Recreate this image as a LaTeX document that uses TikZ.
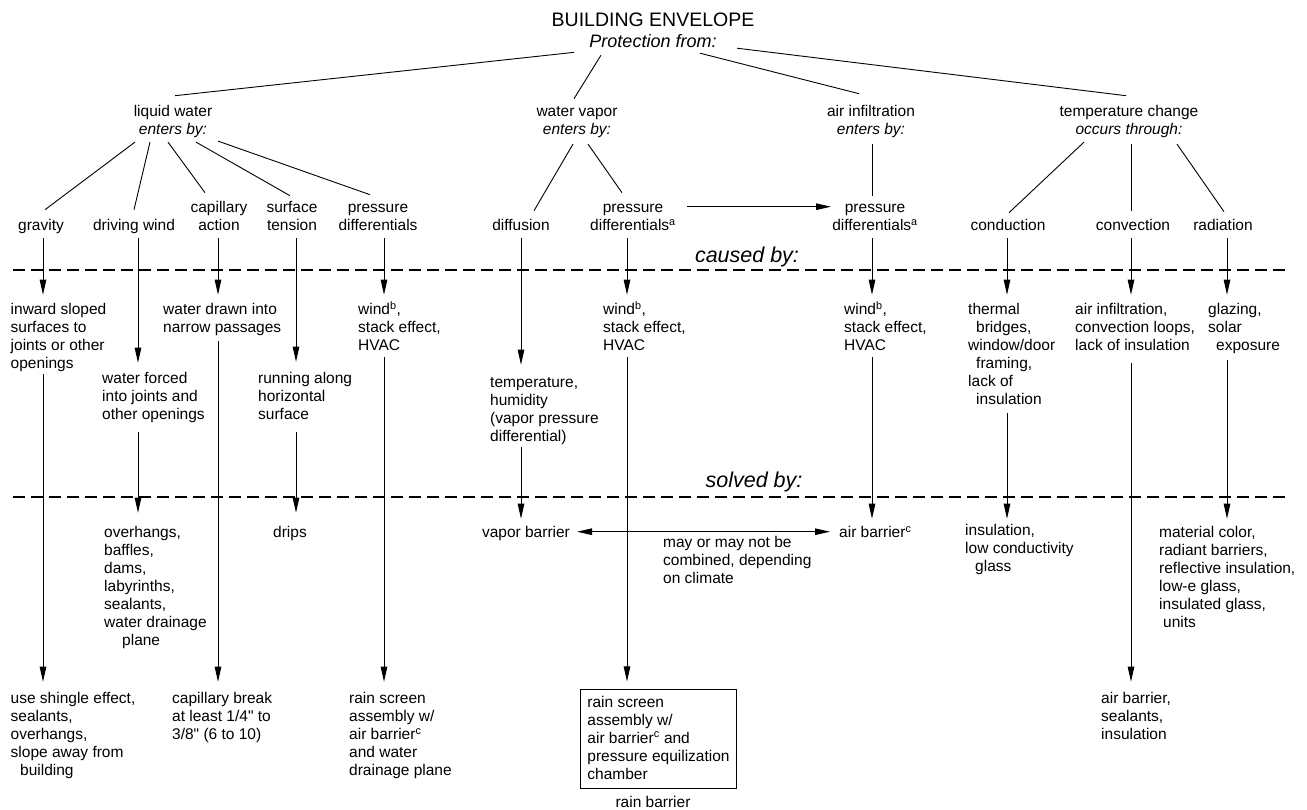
\documentclass[tikz,border=0pt]{standalone}
\usepackage{fontspec}
\setmainfont{Liberation Sans}[Ligatures=TeXOff]
\usetikzlibrary{arrows.meta}
\newcommand\supr[1]{\smash{\textsuperscript{#1}}}
\newcommand\mlc[1]{\begin{tabular}[t]{@{}c@{}}#1\end{tabular}}
\newcommand\mll[1]{\begin{tabular}[t]{@{}l@{}}#1\end{tabular}}
\begin{document}
\begin{tikzpicture}[x=1pt,y=-1pt,
  every node/.style={inner sep=0pt, font=\fontsize{15.5}{18}\selectfont},
  lbl/.style={anchor=base},
  lft/.style={anchor=base west},
  conn/.style={line width=0.9pt},
  arr/.style={conn, -{Triangle[length=15pt,width=6.5pt]}},
  dbl/.style={conn, {Triangle[length=15pt,width=6.5pt]}-{Triangle[length=15pt,width=6.5pt]}},
  sep/.style={line width=1.6pt, dash pattern=on 12pt off 6pt},
  hdr/.style={anchor=base, font=\fontsize{21.5}{24}\selectfont\itshape},
  boxed/.style={draw, line width=0.9pt, inner xsep=7pt, inner ysep=4.5pt, anchor=base west}]
\path[fill=white] (0,0) rectangle (1307,810);
\useasboundingbox (0,0) rectangle (1307,810);

% title
\node[lbl] (T) at (653,27) {\fontsize{18}{20.5}\selectfont\mlc{{\fontsize{19.5}{21}\selectfont BUILDING ENVELOPE}\\\textit{Protection from:}}};

% level 2
\node[lbl] (lw) at (173,116.5) {\mlc{liquid water\\\textit{enters by:}}};
\node[lbl] (wv) at (577,116.5) {\mlc{water vapor\\\textit{enters by:}}};
\node[lbl] (ai) at (871,116.5) {\mlc{air infiltration\\\textit{enters by:}}};
\node[lbl] (tc) at (1129,116.5) {\mlc{temperature change\\\textit{occurs through:}}};

\draw[conn] ([shift={(-79,-1.5)}]T.south) -- ([shift={(2,-8)}]lw.north);
\draw[conn] ([shift={(-52,1.35)}]T.south) -- ([shift={(-3,-5)}]wv.north);
\draw[conn] ([shift={(47,-0.65)}]T.south) -- ([shift={(-12,-10)}]ai.north);
\draw[conn] ([shift={(84,-5.65)}]T.south) -- ([shift={(-3,-8)}]tc.north);

% level 3
\node[lbl] (grav) at (41,230.5) {\mlc{gravity}};
\node[lbl] (dw) at (134,230.5) {\mlc{driving wind}};
\node[lbl] (ca) at (219,212.5) {\mlc{capillary\\action}};
\node[lbl] (st) at (292,212.5) {\mlc{surface\\tension}};
\node[lbl] (pd1) at (378,212.5) {\mlc{pressure\\differentials}};
\node[lbl] (dif) at (521,230.5) {\mlc{diffusion}};
\node[lbl] (pd2) at (633,212.5) {\mlc{pressure\\differentials\supr{a}}};
\node[lbl] (pd3) at (875,212.5) {\mlc{pressure\\differentials\supr{a}}};
\node[lbl] (cond) at (1008,230.5) {\mlc{conduction}};
\node[lbl] (conv) at (1133,230.5) {\mlc{convection}};
\node[lbl] (rad) at (1223,230.5) {\mlc{radiation}};

\draw[conn] ([shift={(-38,2)}]lw.south) -- ([shift={(4,-8)}]grav.north);
\draw[conn] ([shift={(-23,2)}]lw.south) -- ([shift={(0,-8)}]dw.north);
\draw[conn] ([shift={(-5,2)}]lw.south) -- ([shift={(-14,-7)}]ca.north);
\draw[conn] ([shift={(23,2)}]lw.south) -- ([shift={(-2,-4)}]st.north);
\draw[conn] ([shift={(45,1)}]lw.south) -- ([shift={(-8,-5)}]pd1.north);
\draw[conn] ([shift={(-4,4)}]wv.south) -- ([shift={(13,-7)}]dif.north);
\draw[conn] ([shift={(11,4)}]wv.south) -- ([shift={(-11,-7)}]pd2.north);
\draw[conn] ([shift={(1,4)}]ai.south) -- ([shift={(-3,-4)}]pd3.north);
\draw[conn] ([shift={(-45,2)}]tc.south) -- ([shift={(1,-5)}]cond.north);
\draw[conn] ([shift={(2,4)}]tc.south) -- ([shift={(-2,-7)}]conv.north);
\draw[conn] ([shift={(48,4)}]tc.south) -- ([shift={(1,-6)}]rad.north);

\draw[arr] ([shift={(54,7)}]pd2.north) -- ([shift={(-44,7)}]pd3.north);

% separators
\node[hdr] (cb) at (747,262.5) {caused by:};
\draw[sep] (13,270) -- (1287,270);
\node[hdr] (sb) at (754,487.5) {solved by:};
\draw[sep] (13,497) -- (1287,497);

% level 4 (caused by)
\node[lft] (c1) at (10.5,314.5) {\mll{inward sloped\\surfaces to\\joints or other\\openings}};
\node[lft] (c2) at (102,383.5) {\mll{water forced\\into joints and\\other openings}};
\node[lft] (c3) at (163,314.5) {\mll{water drawn into\\narrow passages}};
\node[lft] (c4) at (258,383.5) {\mll{running along\\horizontal\\surface}};
\node[lft] (c5) at (358,314.5) {\mll{wind\supr{b},\\stack effect,\\HVAC}};
\node[lft] (c6) at (490,387.5) {\mll{temperature,\\humidity\\(vapor pressure\\differential)}};
\node[lft] (c7) at (603,314.5) {\mll{wind\supr{b},\\stack effect,\\HVAC}};
\node[lft] (c8) at (844,314.5) {\mll{wind\supr{b},\\stack effect,\\HVAC}};
\node[lft] (c9) at (968,314.5) {\mll{thermal\\\hspace*{8pt}bridges,\\window/door\\\hspace*{8pt}framing,\\lack of\\\hspace*{8pt}insulation}};
\node[lft] (c10) at (1075,314.5) {\mll{air infiltration,\\convection loops,\\lack of insulation}};
\node[lft] (c11) at (1208,314.5) {\mll{glazing,\\solar\\\hspace*{8pt}exposure}};

\draw[arr] ([shift={(2,2)}]grav.south) -- ([shift={(32.5,-7)}]c1.north west);
\draw[arr] ([shift={(4,2)}]dw.south) -- ([shift={(36,-8)}]c2.north west);
\draw[arr] ([shift={(-1,2)}]ca.south) -- ([shift={(55,-7)}]c3.north west);
\draw[arr] ([shift={(4,2)}]st.south) -- ([shift={(38,-9)}]c4.north west);
\draw[arr] ([shift={(6,2)}]pd1.south) -- ([shift={(26,-7)}]c5.north west);
\draw[arr] ([shift={(0,2)}]dif.south) -- ([shift={(31,-10)}]c6.north west);
\draw[arr] ([shift={(-6,2)}]pd2.south) -- ([shift={(24,-7)}]c7.north west);
\draw[arr] ([shift={(-3,2)}]pd3.south) -- ([shift={(28,-7)}]c8.north west);
\draw[arr] ([shift={(-1,2)}]cond.south) -- ([shift={(39,-7)}]c9.north west);
\draw[arr] ([shift={(-2,2)}]conv.south) -- ([shift={(56,-7)}]c10.north west);
\draw[arr] ([shift={(4,2)}]rad.south) -- ([shift={(19,-7)}]c11.north west);

% level 5 (solved by)
\node[lft] (s1) at (10.5,703.5) {\mll{use shingle effect,\\sealants,\\overhangs,\\slope away from\\\hspace*{9.5pt}building}};
\node[lft] (s2) at (104,537.5) {\mll{overhangs,\\baffles,\\dams,\\labyrinths,\\sealants,\\water drainage\\\hspace*{18pt}plane}};
\node[lft] (s3) at (172,703.5) {\mll{capillary break\\at least 1/4" to\\3/8" (6 to 10)}};
\node[lbl] (s4) at (290,537.5) {\mlc{drips}};
\node[lft] (s5) at (349,703.5) {\mll{rain screen\\assembly w/\\air barrier\supr{c}\\and water\\drainage plane}};
\node[lbl] (s6) at (526,537.5) {\mlc{vapor barrier}};
\node[boxed] (s7) at (580,707) {\mll{rain screen\\assembly w/\\air barrier\supr{c} and\\pressure equilization\\chamber}};
\node[lft] (s8) at (839,537.5) {\mll{air barrier\supr{c}}};
\node[lft] (s9) at (965,535.5) {\mll{insulation,\\low conductivity\\\hspace*{10pt}glass}};
\node[lft] (s10) at (1101,703.5) {\mll{air barrier,\\sealants,\\insulation}};
\node[lft] (s11) at (1159,537.5) {\mll{material color,\\radiant barriers,\\reflective insulation,\\low-e glass,\\insulated glass,\\\hspace*{4pt}units}};
\node[lft] (note) at (663,547.5) {\mll{may or may not be\\combined, depending\\on climate}};
\node[lbl] (rb) at (653,807) {\mlc{rain barrier}};

\draw[arr] ([shift={(32.5,0)}]c1.south west) -- ([shift={(32.5,-9)}]s1.north west);
\draw[arr] ([shift={(36,7)}]c2.south west) -- ([shift={(34,-12)}]s2.north west);
\draw[arr] ([shift={(55,3)}]c3.south west) -- ([shift={(46,-9)}]s3.north west);
\draw[arr] ([shift={(38,7)}]c4.south west) -- ([shift={(6,-12)}]s4.north);
\draw[arr] ([shift={(26,1)}]c5.south west) -- ([shift={(35,-9)}]s5.north west);
\draw[arr] ([shift={(31,0)}]c6.south west) -- ([shift={(-5,-6)}]s6.north);
\draw[arr] ([shift={(24,1)}]c7.south west) -- ([shift={(47,-8)}]s7.north west);
\draw[arr] ([shift={(28,1)}]c8.south west) -- ([shift={(33,-6)}]s8.north west);
\draw[arr] ([shift={(39,3)}]c9.south west) -- ([shift={(42,-4)}]s9.north west);
\draw[arr] ([shift={(56,7)}]c10.south west) -- ([shift={(30,-9)}]s10.north west);
\draw[arr] ([shift={(19,4)}]c11.south west) -- ([shift={(68,-6)}]s11.north west);

\draw[dbl] ([shift={(51,7)}]s6.north) -- ([shift={(-9,7)}]s8.north west);
\end{tikzpicture}
\end{document}
